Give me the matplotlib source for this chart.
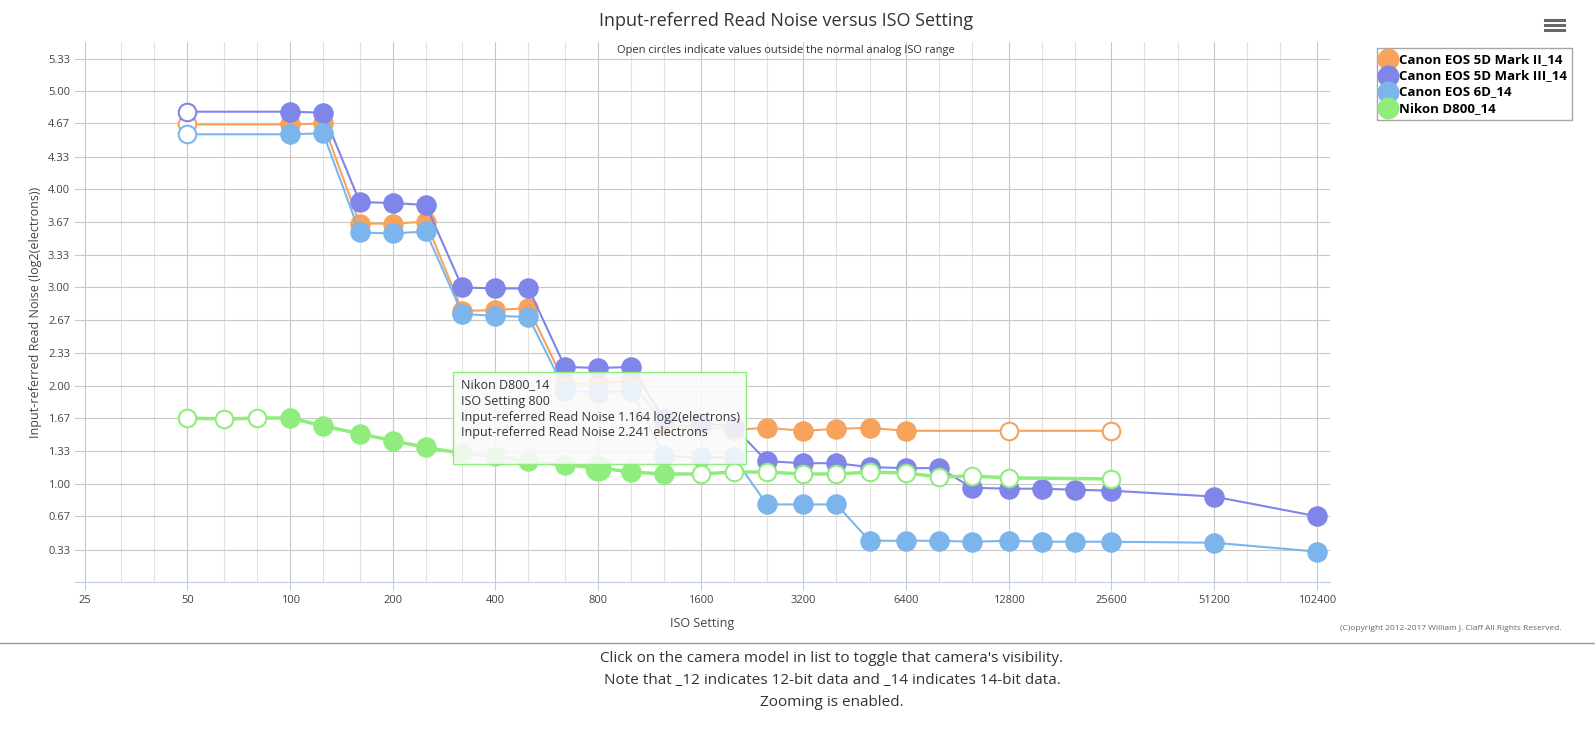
import matplotlib
matplotlib.use("Agg")
import matplotlib.pyplot as plt
from matplotlib.patches import FancyBboxPatch
from matplotlib.ticker import NullFormatter

iso_ii = [50,100,125,160,200,250,320,400,500,640,800,1000,1250,1600,2000,2500,3200,4000,5000,6400,12800,25600]
val_ii = [4.66,4.66,4.67,3.65,3.65,3.67,2.76,2.77,2.79,2.02,2.02,2.05,1.60,1.58,1.55,1.57,1.54,1.56,1.57,1.54,1.54,1.54]
open_ii = [50,12800,25600]

iso_iii = [50,100,125,160,200,250,320,400,500,640,800,1000,1250,1600,2000,2500,3200,4000,5000,6400,8000,10000,12800,16000,20000,25600,51200,102400]
val_iii = [4.79,4.79,4.78,3.87,3.86,3.84,3.00,2.99,2.99,2.19,2.18,2.19,1.66,1.62,1.58,1.23,1.21,1.21,1.17,1.16,1.16,0.96,0.95,0.95,0.94,0.93,0.87,0.67]
open_iii = [50]

iso_6d = [50,100,125,160,200,250,320,400,500,640,800,1000,1250,1600,2000,2500,3200,4000,5000,6400,8000,10000,12800,16000,20000,25600,51200,102400]
val_6d = [4.56,4.56,4.57,3.56,3.55,3.57,2.73,2.71,2.70,1.95,1.93,1.95,1.28,1.27,1.27,0.79,0.79,0.79,0.42,0.42,0.42,0.41,0.42,0.41,0.41,0.41,0.40,0.31]
open_6d = [50]

iso_d800 = [50,64,80,100,125,160,200,250,320,400,500,640,800,1000,1250,1600,2000,2500,3200,4000,5000,6400,8000,10000,12800,25600]
val_d800 = [1.67,1.66,1.67,1.67,1.59,1.51,1.44,1.37,1.31,1.28,1.23,1.19,1.164,1.12,1.10,1.10,1.12,1.12,1.10,1.10,1.12,1.11,1.07,1.08,1.06,1.05]
open_d800 = [50,64,80,1600,2000,2500,3200,4000,5000,6400,8000,10000,12800,25600]

names = ["Canon EOS 5D Mark II_14","Canon EOS 5D Mark III_14","Canon EOS 6D_14","Nikon D800_14"]
colors = ["#f7a35c","#8085e9","#7cb5ec","#90ed7d"]
series = [(iso_ii,val_ii,open_ii),(iso_iii,val_iii,open_iii),(iso_6d,val_6d,open_6d),(iso_d800,val_d800,open_d800)]

xticks = [25,50,100,200,400,800,1600,3200,6400,12800,25600,51200,102400]
yticks = [0.33,0.67,1.00,1.33,1.67,2.00,2.33,2.67,3.00,3.33,3.67,4.00,4.33,4.67,5.00,5.33]
minor_iso = [32,40,64,80,125,160,250,320,500,640,1000,1250,2000,2500,4000,5000,8000,10000,16000,20000,32000,40000,64000,80000]

plt.rcParams['font.family'] = ['Open Sans','DejaVu Sans']
fig = plt.figure(figsize=(15.95,7.30), dpi=100)
ax = fig.add_axes([75/1595, 1-582/730, 1255/1595, 540/730])
ax.set_xscale('log', base=2)
ax.set_xlim(23.4, 112000)
ax.set_ylim(0, 5.5)
ax.set_xticks(xticks)
ax.set_xticklabels([str(t) for t in xticks], fontsize=8, color='#444444')
ax.set_xticks(minor_iso, minor=True)
ax.xaxis.set_minor_formatter(NullFormatter())
ax.set_yticks(yticks)
ax.set_yticklabels([f"{t:.2f}" for t in yticks], fontsize=8, color='#444444')
ax.grid(True, which='major', color='#c8c8c8', lw=0.8)
ax.grid(True, which='minor', axis='x', color='#e2e2e2', lw=0.8)
ax.tick_params(which='both', length=0)
ax.tick_params(axis='x', which='major', length=6, color='#c0d0e0')
for s in ['top','right','left']:
    ax.spines[s].set_visible(False)
ax.spines['bottom'].set_color('#c0d0e0')
ax.set_axisbelow(True)

for i,((xs,ys,op),c) in enumerate(zip(series,colors)):
    lw = 2.5 if i == 3 else 1.5
    ax.plot(xs, ys, color=c, lw=lw, zorder=2+i)
    fx = [x for x,y in zip(xs,ys) if x not in op]
    fy = [y for x,y in zip(xs,ys) if x not in op]
    ox = [x for x,y in zip(xs,ys) if x in op]
    oy = [y for x,y in zip(xs,ys) if x in op]
    ax.scatter(fx, fy, s=190, color=c, zorder=3+i, label=names[i])
    ax.scatter(ox, oy, s=160, facecolor='white', edgecolor=c, lw=1.5, zorder=3+i)
ax.scatter([800],[1.164], s=320, color=colors[3], zorder=8)

ax.set_xlabel("ISO Setting", fontsize=9, color='#444444', labelpad=8)
ax.set_ylabel("Input-referred Read Noise (log2(electrons))", fontsize=9, color='#444444')

fig.text(0.493, 1-21/730, "Input-referred Read Noise versus ISO Setting", ha='center', va='center', fontsize=13, color='#333333')
fig.text(0.493, 1-51/730, "Open circles indicate values outside the normal analog ISO range", ha='center', va='center', fontsize=8, color='#333333')

leg = fig.legend(loc='upper left', bbox_to_anchor=(1370/1595, 1-41/730), frameon=True,
                 prop={'weight':'bold','size':9.5}, handletextpad=0.3, borderpad=0.4, labelspacing=0.25,
                 fancybox=False, edgecolor='#909090', handlelength=1.0)
for h in leg.legend_handles:
    h.set_sizes([220])

for dy in (0, 5, 10):
    fig.add_artist(plt.Line2D([1545/1595,1564/1595],[1-(20+dy)/730]*2, color='#666666', lw=2.2))

tt = FancyBboxPatch((453/1595, 1-464/730), 293/1595, 92/730, boxstyle='square,pad=0',
                    transform=fig.transFigure, facecolor=(0.98,0.98,0.98,0.88), edgecolor='#90ed7d', lw=1, zorder=20)
fig.add_artist(tt)
lines = ["Nikon D800_14","ISO Setting 800","Input-referred Read Noise 1.164 log2(electrons)","Input-referred Read Noise 2.241 electrons"]
for k,l in enumerate(lines):
    fig.text(461/1595, 1-(385+16*k)/730, l, fontsize=9, color='#333333', va='center', zorder=21)

fig.text(1562/1595, 1-628/730, "(C)opyright 2012-2017 William J. Claff All Rights Reserved.", ha='right', va='center', fontsize=6, color='#666666')
fig.add_artist(plt.Line2D([0,1],[1-643/730]*2, color='#999999', lw=1))
for k,l in enumerate(["Click on the camera model in list to toggle that camera's visibility.",
                      "Note that _12 indicates 12-bit data and _14 indicates 14-bit data.",
                      "Zooming is enabled."]):
    fig.text(832/1595, 1-(658+22*k)/730, l, ha='center', va='center', fontsize=11, color='#333333')

fig.savefig("out.png", dpi=100)
